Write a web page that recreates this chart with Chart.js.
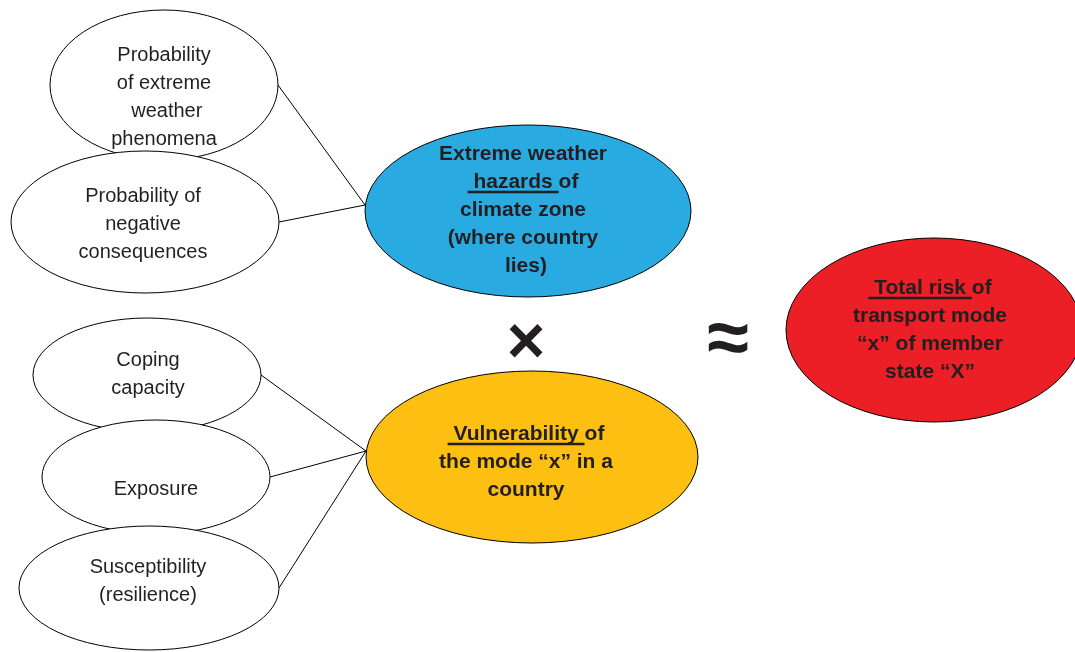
<!DOCTYPE html>
<html>
<head>
<meta charset="utf-8">
<script src="https://cdn.jsdelivr.net/npm/chart.js@4.4.1/dist/chart.umd.min.js"></script>
<style>
  html, body { margin: 0; padding: 0; background: #fff; }
  #wrap { width: 1075px; height: 652px; position: relative; }
</style>
</head>
<body>
<div id="wrap"><canvas id="riskChart"></canvas></div>
<script>
// node texts, [ ... ] marks the underlined part of a line
const nodeLabels = [
  ['Probability', 'of extreme', ' weather', 'phenomena'],
  ['Probability of', 'negative', 'consequences'],
  ['Extreme weather', '[ hazards ]of', 'climate zone', '(where country', ' lies)'],
  ['Coping', 'capacity'],
  ['Exposure'],
  ['Susceptibility', '(resilience)'],
  ['[ Vulnerability ]of', 'the mode “x” in a', 'country'],
  ['[ Total risk ]of', 'transport mode', '“x” of member', 'state “X”']
];
const nodeX = [164, 145, 528, 147, 156, 149, 532, 934];
const nodeY = [85, 222, 211, 375, 477, 588, 457, 330];
const nodeRX = [114, 134, 163, 114, 114, 130, 166, 148];
const nodeRY = [75, 71, 86, 57, 57, 62, 86, 92];
const labelX = [164, 143, 523, 148, 156, 148, 526, 930];
const labelY = [97, 224, 210, 374, 489, 581, 462, 330];
// child -> parent
const links = [[0, 2], [1, 2], [3, 6], [4, 6], [5, 6]];
const symbolText = ['×', '≈'];
const symbolX = [526, 728];
const symbolY = [345, 342];

// styles
const nodeFill = ['#ffffff', '#ffffff', '#29abe2', '#ffffff', '#ffffff', '#ffffff', '#fcbf12', '#ec1f26'];
const nodeBold = [false, false, true, false, false, false, true, true];
const textColor = '#231f20';

const linkSets = links.map(([a, b]) => ({
  type: 'scatter',
  showLine: true,
  borderColor: '#000',
  borderWidth: 1,
  pointRadius: 0,
  data: [
    { x: nodeX[a] + nodeRX[a], y: nodeY[a] },
    { x: nodeX[b] - nodeRX[b], y: nodeY[b] - 6 }
  ]
}));

const ellipsePlugin = {
  id: 'ellipses',
  beforeDatasetsDraw(chart) {
    const { ctx, scales: { x, y } } = chart;
    ctx.save();
    nodeX.forEach((cx, i) => {
      const px = x.getPixelForValue(cx);
      const py = y.getPixelForValue(nodeY[i]);
      const rx = Math.abs(x.getPixelForValue(cx + nodeRX[i]) - px);
      const ry = Math.abs(y.getPixelForValue(nodeY[i] + nodeRY[i]) - py);
      ctx.beginPath();
      ctx.ellipse(px, py, rx, ry, 0, 0, Math.PI * 2);
      ctx.fillStyle = nodeFill[i];
      ctx.fill();
      ctx.lineWidth = 1;
      ctx.strokeStyle = '#000';
      ctx.stroke();
    });
    ctx.restore();
  },
  afterDatasetsDraw(chart) {
    const { ctx, scales: { x, y } } = chart;
    const lh = 28;
    ctx.save();
    ctx.fillStyle = textColor;
    ctx.strokeStyle = textColor;
    ctx.textBaseline = 'middle';
    nodeLabels.forEach((lines, i) => {
      ctx.font = nodeBold[i] ? 'bold 21px "Liberation Sans", Arial' : '20px "Liberation Sans", Arial';
      const px = x.getPixelForValue(labelX[i]);
      const top = y.getPixelForValue(labelY[i]) - (lines.length - 1) * lh / 2;
      lines.forEach((raw, j) => {
        const m = raw.match(/^(.*?)\[(.*)\](.*)$/);
        const plain = m ? m[1] + m[2] + m[3] : raw;
        const w = ctx.measureText(plain).width;
        const left = px - w / 2;
        const ly = top + j * lh;
        ctx.textAlign = 'left';
        ctx.fillText(plain, left, ly);
        if (m) {
          const u0 = left + ctx.measureText(m[1]).width;
          const u1 = u0 + ctx.measureText(m[2]).width;
          ctx.lineWidth = 2.5;
          ctx.beginPath();
          ctx.moveTo(u0, ly + 10);
          ctx.lineTo(u1, ly + 10);
          ctx.stroke();
        }
      });
    });
    ctx.textAlign = 'center';
    ctx.font = 'bold 66px "Liberation Sans", Arial';
    ctx.fillText(symbolText[0], x.getPixelForValue(symbolX[0]), y.getPixelForValue(symbolY[0]));
    ctx.font = 'bold 76px "Liberation Sans", Arial';
    ctx.fillText(symbolText[1], x.getPixelForValue(symbolX[1]), y.getPixelForValue(symbolY[1]));
    ctx.restore();
  }
};

new Chart(document.getElementById('riskChart'), {
  type: 'scatter',
  data: { datasets: linkSets },
  options: {
    responsive: true,
    maintainAspectRatio: false,
    animation: false,
    layout: { padding: 0 },
    scales: {
      x: { type: 'linear', min: 0, max: 1075, display: false },
      y: { type: 'linear', min: 0, max: 652, reverse: true, display: false }
    },
    plugins: { legend: { display: false }, tooltip: { enabled: false } }
  },
  plugins: [ellipsePlugin]
});
</script>
</body>
</html>
